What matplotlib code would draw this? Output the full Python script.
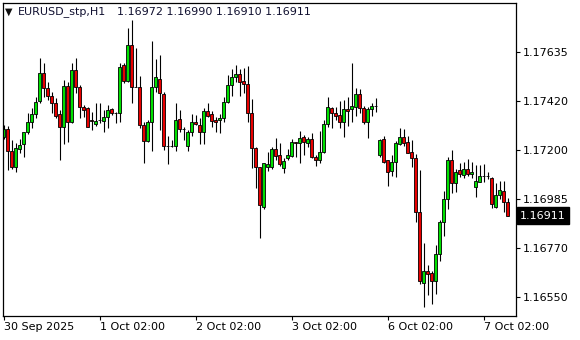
import matplotlib
matplotlib.use('Agg')
import matplotlib.pyplot as plt
import matplotlib.transforms as mtransforms

# EURUSD_stp H1 bars
opens = [1.17258, 1.17293, 1.17197, 1.17128, 1.17208, 1.17227, 1.17280, 1.17327, 1.17359, 1.17420,
         1.17541, 1.17474, 1.17442, 1.17408, 1.17361, 1.17303, 1.17485, 1.17327, 1.17555, 1.17479,
         1.17393, 1.17386, 1.17334, 1.17318, 1.17332, 1.17328, 1.17346, 1.17382, 1.17364, 1.17367,
         1.17576, 1.17508, 1.17666, 1.17481, 1.17479, 1.17312, 1.17243, 1.17327, 1.17479, 1.17514,
         1.17449, 1.17221, 1.17221, 1.17221, 1.17339, 1.17293, 1.17221, 1.17280, 1.17324, 1.17312,
         1.17283, 1.17374, 1.17359, 1.17334, 1.17334, 1.17342, 1.17415, 1.17488, 1.17523, 1.17538,
         1.17507, 1.17494, 1.17364, 1.17212, 1.17124, 1.16951, 1.17124, 1.17124, 1.17206, 1.17180,
         1.17121, 1.17165, 1.17177, 1.17236, 1.17231, 1.17261, 1.17231, 1.17249, 1.17169, 1.17155,
         1.17194, 1.17315, 1.17386, 1.17364, 1.17356, 1.17327, 1.17383, 1.17383, 1.17393, 1.17448,
         1.17386, 1.17324, 1.17382, 1.17398, 1.17180, 1.17249, 1.17156, 1.17110, 1.17150, 1.17227,
         1.17258, 1.17236, 1.17191, 1.17165, 1.16926, 1.16615, 1.16664, 1.16656, 1.16624, 1.16740,
         1.16885, 1.16984, 1.17156, 1.17054, 1.17113, 1.17091, 1.17118, 1.17094, 1.17037, 1.17062,
         1.17086, 1.17085, 1.17076, 1.16951, 1.17003, 1.17020, 1.16972]
highs = [1.17312, 1.17308, 1.17246, 1.17231, 1.17249, 1.17283, 1.17364, 1.17386, 1.17438, 1.17607,
         1.17585, 1.17504, 1.17460, 1.17430, 1.17379, 1.17511, 1.17504, 1.17588, 1.17607, 1.17489,
         1.17401, 1.17393, 1.17371, 1.17411, 1.17411, 1.17379, 1.17401, 1.17386, 1.17371, 1.17585,
         1.17585, 1.17740, 1.17777, 1.17651, 1.17529, 1.17327, 1.17334, 1.17684, 1.17603, 1.17622,
         1.17460, 1.17264, 1.17246, 1.17408, 1.17379, 1.17305, 1.17290, 1.17359, 1.17356, 1.17342,
         1.17386, 1.17411, 1.17374, 1.17349, 1.17361, 1.17438, 1.17533, 1.17558, 1.17578, 1.17558,
         1.17563, 1.17573, 1.17427, 1.17216, 1.17128, 1.17146, 1.17194, 1.17216, 1.17256, 1.17231,
         1.17165, 1.17206, 1.17250, 1.17239, 1.17286, 1.17268, 1.17261, 1.17278, 1.17180, 1.17286,
         1.17334, 1.17438, 1.17393, 1.17390, 1.17420, 1.17423, 1.17435, 1.17585, 1.17474, 1.17470,
         1.17396, 1.17393, 1.17411, 1.17430, 1.17249, 1.17264, 1.17157, 1.17180, 1.17241, 1.17298,
         1.17295, 1.17264, 1.17246, 1.17183, 1.17113, 1.16792, 1.16693, 1.16668, 1.16782, 1.16892,
         1.17020, 1.17172, 1.17202, 1.17118, 1.17143, 1.17150, 1.17162, 1.17147, 1.17135, 1.17135,
         1.17140, 1.17106, 1.17084, 1.17057, 1.17065, 1.17065, 1.16990]
lows = [1.17249, 1.17113, 1.17116, 1.17106, 1.17187, 1.17172, 1.17272, 1.17298, 1.17342, 1.17408,
        1.17438, 1.17423, 1.17364, 1.17342, 1.17155, 1.17228, 1.17239, 1.17323, 1.17452, 1.17342,
        1.17349, 1.17302, 1.17290, 1.17308, 1.17320, 1.17283, 1.17298, 1.17356, 1.17320, 1.17327,
        1.17497, 1.17504, 1.17408, 1.17479, 1.17298, 1.17146, 1.17239, 1.17199, 1.17460, 1.17290,
        1.17202, 1.17140, 1.17216, 1.17199, 1.17283, 1.17246, 1.17199, 1.17264, 1.17312, 1.17228,
        1.17228, 1.17346, 1.17301, 1.17283, 1.17278, 1.17327, 1.17408, 1.17441, 1.17504, 1.17442,
        1.17455, 1.17327, 1.17121, 1.17035, 1.16814, 1.16939, 1.17110, 1.17116, 1.17157, 1.17131,
        1.17101, 1.17157, 1.17172, 1.17172, 1.17146, 1.17180, 1.17216, 1.17165, 1.17132, 1.17143,
        1.17190, 1.17305, 1.17298, 1.17334, 1.17298, 1.17261, 1.17308, 1.17327, 1.17352, 1.17364,
        1.17317, 1.17253, 1.17352, 1.17371, 1.17169, 1.17146, 1.17044, 1.17088, 1.17084, 1.17224,
        1.17221, 1.17187, 1.17124, 1.16885, 1.16609, 1.16506, 1.16558, 1.16519, 1.16564, 1.16712,
        1.16823, 1.16939, 1.17013, 1.17017, 1.17084, 1.17079, 1.17088, 1.17079, 1.16995, 1.17059,
        1.17062, 1.17072, 1.16944, 1.16944, 1.16985, 1.16929, 1.16910]
closes = [1.17293, 1.17197, 1.17128, 1.17209, 1.17222, 1.17280, 1.17324, 1.17359, 1.17412, 1.17541,
          1.17474, 1.17442, 1.17408, 1.17354, 1.17303, 1.17485, 1.17327, 1.17555, 1.17479, 1.17393,
          1.17380, 1.17305, 1.17328, 1.17330, 1.17332, 1.17346, 1.17379, 1.17364, 1.17364, 1.17567,
          1.17508, 1.17666, 1.17482, 1.17481, 1.17312, 1.17243, 1.17327, 1.17479, 1.17523, 1.17452,
          1.17221, 1.17221, 1.17221, 1.17334, 1.17293, 1.17293, 1.17283, 1.17324, 1.17315, 1.17283,
          1.17374, 1.17354, 1.17331, 1.17327, 1.17345, 1.17412, 1.17488, 1.17523, 1.17538, 1.17504,
          1.17492, 1.17364, 1.17209, 1.17124, 1.16956, 1.17143, 1.17140, 1.17206, 1.17177, 1.17138,
          1.17153, 1.17180, 1.17236, 1.17231, 1.17253, 1.17236, 1.17249, 1.17169, 1.17155, 1.17194,
          1.17315, 1.17390, 1.17364, 1.17354, 1.17327, 1.17383, 1.17374, 1.17396, 1.17448, 1.17386,
          1.17324, 1.17382, 1.17396, 1.17398, 1.17246, 1.17150, 1.17106, 1.17147, 1.17231, 1.17258,
          1.17234, 1.17190, 1.17165, 1.16926, 1.16620, 1.16668, 1.16652, 1.16624, 1.16740, 1.16885,
          1.16984, 1.17156, 1.17054, 1.17106, 1.17094, 1.17118, 1.17094, 1.17106, 1.17065, 1.17087,
          1.17086, 1.17085, 1.16961, 1.17003, 1.17025, 1.16970, 1.16911]

date_ticks = [0, 24, 48, 72, 96, 120]
date_labels = ['30 Sep 2025', '1 Oct 02:00', '2 Oct 02:00', '3 Oct 02:00', '6 Oct 02:00', '7 Oct 02:00']
price_ticks = [1.17635, 1.17420, 1.17200, 1.16985, 1.16770, 1.16550]
price_labels = ['1.17635', '1.17420', '1.17200', '1.16985', '1.16770', '1.16550']

symbol = 'EURUSD_stp,H1'
last_ohlc = '1.16972 1.16990 1.16910 1.16911'


def main():
    fig = plt.figure(figsize=(5.8, 3.4), dpi=100)
    ax = fig.add_axes([2.5 / 580, 24 / 340, 513.5 / 580, 313.5 / 340])

    x = list(range(len(opens)))
    bottoms = [min(o, c) for o, c in zip(opens, closes)]
    heights = [abs(c - o) for o, c in zip(opens, closes)]
    colors = []
    for o, c in zip(opens, closes):
        if c > o:
            colors.append('#00e000')
        elif c < o:
            colors.append('#e80000')
        else:
            colors.append('black')

    # wicks under the bodies
    ax.vlines(x, lows, highs, color='black', linewidth=0.8, zorder=1)
    ax.bar(x, heights, bottom=bottoms, width=0.72, color=colors,
           edgecolor='black', linewidth=0.6, zorder=2)

    ax.set_xlim(-0.25, 128.1)
    ax.set_ylim(1.16467, 1.17854)

    ax.yaxis.tick_right()
    ax.set_yticks(price_ticks)
    ax.set_yticklabels(price_labels)
    ax.set_xticks(date_ticks)
    ax.set_xticklabels(date_labels, ha='left')
    ax.tick_params(axis='y', direction='out', length=3, width=0.8, pad=2, labelsize=8)
    ax.tick_params(axis='x', direction='out', length=3, width=0.8, pad=1.5, labelsize=8)
    for s in ax.spines.values():
        s.set_linewidth(0.9)
        s.set_color('black')

    # current price label on the right scale
    trans = mtransforms.blended_transform_factory(ax.transAxes, ax.transData)
    ax.text(1.0084, closes[-1], '%.5f' % closes[-1], transform=trans, ha='left', va='center',
            fontsize=8, color='white', clip_on=False,
            bbox=dict(boxstyle='square,pad=0.3', facecolor='black', edgecolor='black'))

    # header
    hy = 1 - 12 / 340
    fig.text(5 / 580, hy, '▼', fontsize=7, va='center', ha='left', color='#101010')
    fig.text(18 / 580, hy, symbol, fontsize=8, va='center', ha='left', color='#101030')
    fig.text(117 / 580, hy, last_ohlc, fontsize=8, va='center', ha='left', color='#101030')

    fig.savefig('out.png', dpi=100)


if __name__ == '__main__':
    main()
